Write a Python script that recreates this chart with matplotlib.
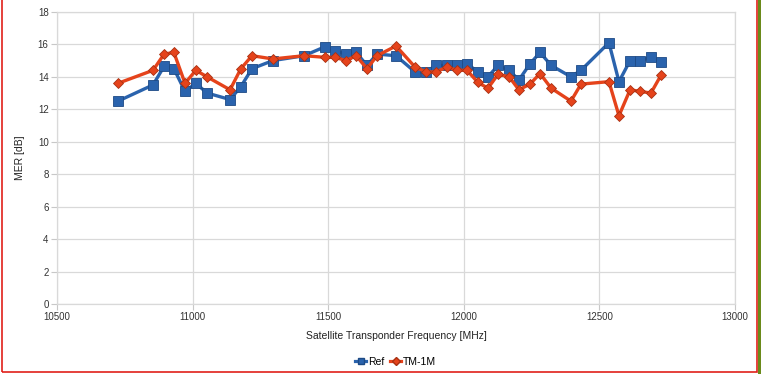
import matplotlib
matplotlib.use('Agg')
import matplotlib.pyplot as plt
from matplotlib.patches import Rectangle
from matplotlib.lines import Line2D

# Data
freq = [10725, 10854, 10895, 10931, 10972, 11012, 11053, 11138, 11178, 11219,
        11296, 11411, 11488, 11525, 11566, 11603, 11643, 11680, 11750, 11820,
        11861, 11897, 11938, 11975, 12012, 12052, 12089, 12126, 12167, 12203,
        12244, 12281, 12322, 12395, 12432, 12535, 12572, 12613, 12650, 12690,
        12727]
mer_ref = [12.5, 13.5, 14.65, 14.5, 13.1, 13.6, 13.0, 12.6, 13.4, 14.5,
           15.0, 15.3, 15.85, 15.6, 15.4, 15.5, 14.7, 15.4, 15.3, 14.3,
           14.3, 14.7, 14.7, 14.7, 14.8, 14.3, 14.0, 14.7, 14.4, 13.8,
           14.8, 15.5, 14.7, 14.0, 14.4, 16.1, 13.7, 15.0, 15.0, 15.2,
           14.9]
mer_tm = [13.6, 14.4, 15.4, 15.5, 13.6, 14.4, 14.0, 13.2, 14.5, 15.3,
          15.1, 15.3, 15.2, 15.2, 15.0, 15.3, 14.5, 15.3, 15.9, 14.6,
          14.3, 14.3, 14.6, 14.4, 14.4, 13.65, 13.3, 14.15, 14.0, 13.2,
          13.55, 14.2, 13.3, 12.5, 13.55, 13.7, 11.6, 13.2, 13.1, 13.0,
          14.1]

BLUE = '#2a63ad'
BLUE_EDGE = '#1d4a85'
RED = '#e5431b'
RED_EDGE = '#a83012'

plt.rcParams['font.family'] = ['Liberation Sans', 'DejaVu Sans']

fig = plt.figure(figsize=(7.61, 3.74), dpi=100)
ax = fig.add_axes([0.0749, 0.1872, 0.891, 0.781])

ax.plot(freq, mer_ref, color=BLUE, lw=2.4, marker='s', ms=6.5,
        mfc=BLUE, mec=BLUE_EDGE, mew=0.6, zorder=3)
ax.plot(freq, mer_tm, color=RED, lw=2.4, marker='D', ms=5.2,
        mfc=RED, mec=RED_EDGE, mew=0.6, zorder=4)

ax.set_xlim(10500, 13000)
ax.set_ylim(0, 18)
ax.set_xticks(range(10500, 13001, 500))
ax.set_yticks(range(0, 19, 2))
ax.grid(True, color='#d9d9d9', lw=0.9)
ax.set_axisbelow(True)
for s in ax.spines.values():
    s.set_color('#d9d9d9')
    s.set_linewidth(0.9)
ax.tick_params(axis='both', length=4, width=0.8, color='#c8c8c8',
               labelsize=7, labelcolor='#333333', pad=2)
ax.set_xlabel('Satellite Transponder Frequency [MHz]', fontsize=7.5,
              color='#222222', labelpad=6)
ax.set_ylabel('MER [dB]', fontsize=7.5, color='#222222', labelpad=9)

handles = [Line2D([], [], color=BLUE, lw=2.3, marker='s', ms=5,
                  mfc=BLUE, mec=BLUE_EDGE),
           Line2D([], [], color=RED, lw=2.3, marker='D', ms=4,
                  mfc=RED, mec=RED_EDGE)]
fig.legend(handles, ['Ref', 'TM-1M'], loc='center', bbox_to_anchor=(0.52, 0.032),
           ncol=2, frameon=False, fontsize=7.5, handlelength=1.0,
           handletextpad=0.2, columnspacing=0.6)

# outer frame lines seen in the screenshot
fig.add_artist(Rectangle((0.002, 0.005), 0.993, 1.2, transform=fig.transFigure,
                         fill=False, ec='#e0201a', lw=1.2))
fig.add_artist(Rectangle((0.9962, 0), 0.0038, 1, transform=fig.transFigure,
                         fc='#6a8a1a', ec='none'))

fig.savefig('out.png', dpi=100)
